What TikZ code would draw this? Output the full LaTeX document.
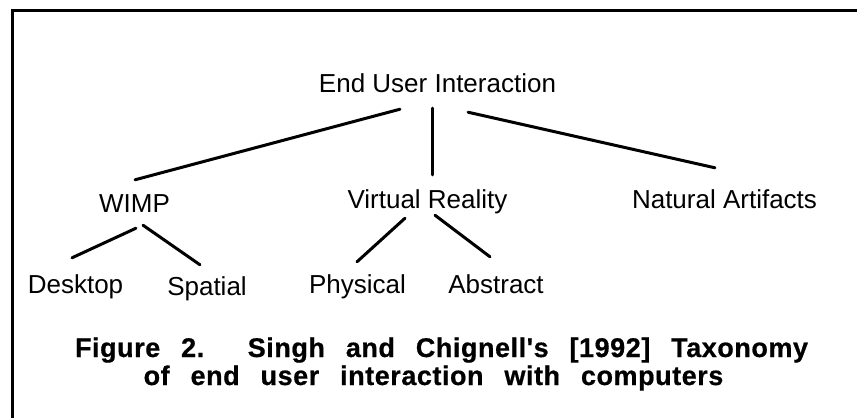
\documentclass[tikz,border=0pt]{standalone}
\usepackage{fontspec}
\setmainfont{Liberation Sans}
\newfontfamily\capfont[LetterSpace=2, WordSpace=2.6, BoldFeatures={FakeBold=0.6}]{Liberation Sans}
\usepackage{tikz, xcolor}
\usetikzlibrary{calc, positioning}

\tikzset{
term/.style={rectangle, text centered, inner sep=0pt, anchor=base,
  text height=19pt, text depth=6pt, font=\fontsize{26}{30}\selectfont},
caption/.style={rectangle, inner sep=0pt, anchor=base,
  font=\fontsize{27}{30}\capfont\bfseries},
branch/.style={line width=3pt, line cap=round, color=black},
}

\begin{document}
\begin{tikzpicture}[x=1pt, y=-1pt]

\useasboundingbox (0, 0) rectangle (857, 418);

% frame
\draw[line width=3pt] (857, 10) -- (12, 10) -- (12, 418);

\node[term]
(end-user) at (437.5, 92)
{End User Interaction};

\node[term]
(wimp) at (134.5, 212)
{WIMP};

\node[term]
(virtual-reality) at (427.5, 208)
{Virtual Reality};

\node[term]
(natural-artifacts) at (724.5, 208)
{Natural Artifacts};

\node[term]
(desktop) at (75.5, 293)
{Desktop};

\node[term]
(spatial) at (207, 295)
{Spatial};

\node[term]
(physical) at (357.5, 293)
{Physical};

\node[term]
(abstract) at (496, 293)
{Abstract};

\node[caption]
(caption-1) at (441.5, 357)
{Figure 2.\hspace{20pt} Singh and Chignell's [1992] Taxonomy};

\node[caption]
(caption-2) at (433.5, 385)
{of end user interaction with computers};

\draw[branch] ([shift={(-37.5, 11)}]end-user.south) -- ([shift={(0.5, -13)}]wimp.north);
\draw[branch] ([shift={(-5.5, 10)}]end-user.south) -- ([shift={(4.5, -14)}]virtual-reality.north);
\draw[branch] ([shift={(30.5, 14)}]end-user.south) -- ([shift={(-9.5, -21)}]natural-artifacts.north);
\draw[branch] ([shift={(1.5, 10)}]wimp.south) -- ([shift={(-3.5, -16)}]desktop.north);
\draw[branch] ([shift={(8.5, 7)}]wimp.south) -- ([shift={(-7, -11)}]spatial.north);
\draw[branch] ([shift={(-22.5, 4)}]virtual-reality.south) -- ([shift={(-0.5, -12)}]physical.north);
\draw[branch] ([shift={(7.5, 1)}]virtual-reality.south) -- ([shift={(-6, -17)}]abstract.north);

\end{tikzpicture}
\end{document}
